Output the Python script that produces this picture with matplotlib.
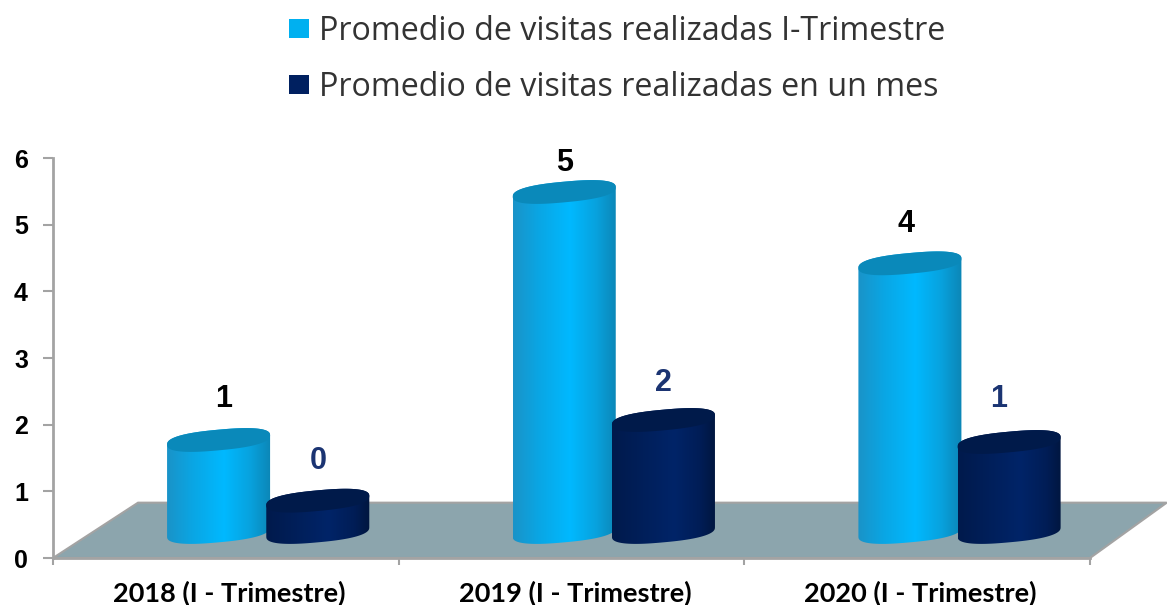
import numpy as np
import matplotlib.pyplot as plt
from matplotlib.colors import LinearSegmentedColormap
from matplotlib.patches import Patch, Polygon

categories = ["2018 (I - Trimestre)", "2019 (I - Trimestre)", "2020 (I - Trimestre)"]
trimestre = [1.38, 5.10, 4.03]
mes = [0.47, 1.68, 1.35]
trimestre_labels = ["1", "5", "4"]
mes_labels = ["0", "2", "1"]
legend_labels = ["Promedio de visitas realizadas I-Trimestre",
                 "Promedio de visitas realizadas en un mes"]

W, H = 1167, 605
fig = plt.figure(figsize=(W / 100, H / 100), dpi=100)
ax = fig.add_axes([53 / W, (H - 558) / H, (1090 - 53) / W, 400 / H])
ax.set_xlim(0, 3)
ax.set_ylim(0, 6)

gray = "#a3a3a3"
floor_z = 0.39  # bars stand in the middle of the floor

cmap_light = LinearSegmentedColormap.from_list(
    "light", [(0, "#1a93c8"), (0.25, "#0aa6e4"), (0.55, "#00b9ff"), (0.8, "#08a2de"), (1, "#0c86b6")])
cmap_dark = LinearSegmentedColormap.from_list(
    "dark", [(0, "#001a4c"), (0.3, "#001f5a"), (0.6, "#002468"), (0.85, "#001d56"), (1, "#00163f")])

floor = Polygon([(0, 0), (3, 0), (3.222, 0.83), (0.246, 0.83)], closed=True,
                facecolor="#8ca5ad", edgecolor=gray, linewidth=1.5, clip_on=False, zorder=1)
ax.add_patch(floor)


def rim(t, cx, cy):
    # slightly squared ellipse, tilted up to the right
    a = 0.149
    b = 0.155
    tilt = 0.07
    u = np.sign(np.cos(t)) * np.abs(np.cos(t)) ** 0.8
    v = np.sign(np.sin(t)) * np.abs(np.sin(t)) ** 0.8
    return cx + a * u, cy + b * v + tilt * u


def cylinder(cx, value, cmap, top_color, z):
    a = 0.149
    top = floor_z + value
    x1, y1 = rim(np.linspace(np.pi, 2 * np.pi, 60), cx, floor_z)
    x2, y2 = rim(np.linspace(0, np.pi, 60), cx, top)
    body = Polygon(np.c_[np.r_[x1, x2], np.r_[y1, y2]], closed=True, transform=ax.transData,
                   facecolor="none", edgecolor="none")
    ax.add_patch(body)
    grad = np.linspace(0, 1, 256).reshape(1, -1)
    im = ax.imshow(grad, cmap=cmap, extent=[cx - a, cx + a, floor_z - 0.3, top + 0.3],
                   aspect="auto", zorder=z, clip_on=True)
    im.set_clip_path(body)
    xc, yc = rim(np.linspace(0, 2 * np.pi, 120), cx, top)
    cap = Polygon(np.c_[xc, yc], closed=True, facecolor=top_color, edgecolor="none", zorder=z + 0.1)
    ax.add_patch(cap)


label_font = dict(family="Liberation Sans", fontweight="bold", fontsize=22, ha="center", va="center")
dark_text = "#1b3472"
light_dy = [0.62, 0.43, 0.59]
dark_dy = [0.60, 0.56, 0.64]
dark_dx = [0, 0, -0.03]
light_dx = [0.015, 0, -0.012]

for i in range(len(categories)):
    c1 = i + 0.479
    c2 = i + 0.766
    cylinder(c1, trimestre[i], cmap_light, "#0a89ba", 2 + i)
    cylinder(c2, mes[i], cmap_dark, "#001a4a", 2.5 + i)
    ax.text(c1 + light_dx[i], floor_z + trimestre[i] + light_dy[i], trimestre_labels[i],
            color="black", zorder=10, **label_font)
    ax.text(c2 + dark_dx[i], floor_z + mes[i] + dark_dy[i], mes_labels[i],
            color=dark_text, zorder=10, **label_font)

ax.set_xlim(0, 3)
ax.set_ylim(0, 6)

for side in ["top", "right"]:
    ax.spines[side].set_visible(False)
for side in ["left", "bottom"]:
    ax.spines[side].set_color(gray)
    ax.spines[side].set_linewidth(2)

ax.set_yticks(range(7))
ax.set_yticklabels([str(v) for v in range(7)], family="Liberation Sans", fontweight="bold", fontsize=18)
ax.tick_params(axis="y", length=7, width=1.5, color=gray, pad=11)
ax.set_xticks([0, 1, 2, 3])
ax.set_xticklabels([])
ax.tick_params(axis="x", which="major", length=5, width=1.5, color=gray)
ax.set_xticks([0.51, 1.51, 2.51], minor=True)
ax.set_xticklabels(categories, minor=True, family="Lato", fontweight="bold", fontsize=19.5)
ax.tick_params(axis="x", which="minor", length=0, pad=16)

handles = [Patch(facecolor="#00b0f0", edgecolor="none"), Patch(facecolor="#002060", edgecolor="none")]
fig.legend(handles, legend_labels, loc="upper left", bbox_to_anchor=(260 / W, 1 + 14 / H), frameon=False,
           prop={"family": "Open Sans", "size": 23.2}, labelcolor="#333333",
           handlelength=0.63, handleheight=0.53, handletextpad=0.31, labelspacing=0.72)

fig.savefig("out.png", dpi=100)
